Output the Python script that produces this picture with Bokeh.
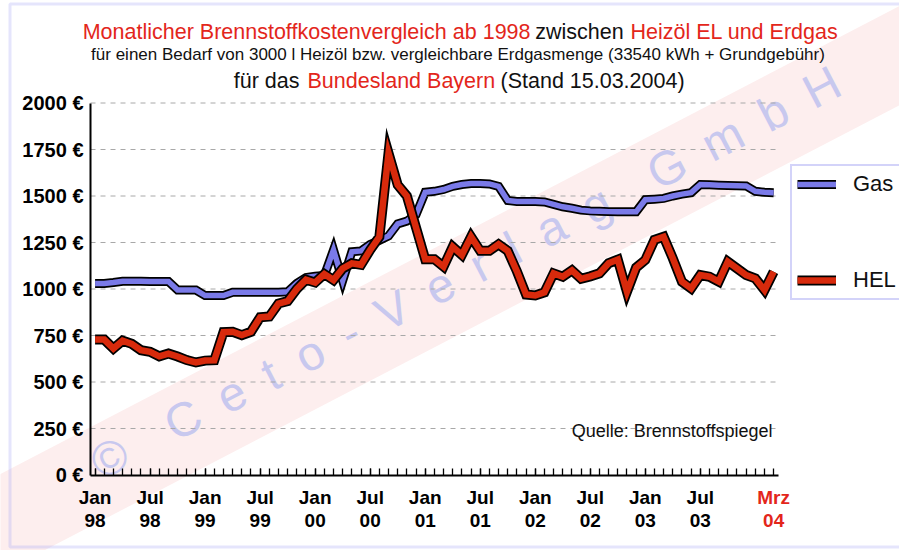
import math
from bokeh.plotting import figure
from bokeh.models import (FixedTicker, Label, Legend, LegendItem, PolyAnnotation,
                          Range1d, ColumnDataSource, LinearAxis)
from bokeh.embed import file_html
from bokeh.resources import INLINE

# ---------------- data ----------------
months = list(range(75))  # Jan 1998 .. Mrz 2004
gas = [1030, 1030, 1035, 1042, 1042, 1042, 1040, 1040, 1040, 994,
       994, 994, 965, 965, 965, 982, 982, 982, 982, 982,
       982, 985, 1030, 1062, 1068, 1072, 1210, 1045, 1200, 1205,
       1240, 1262, 1285, 1350, 1365, 1400, 1520, 1525, 1535, 1552,
       1562, 1567, 1567, 1565, 1552, 1476, 1471, 1470, 1470, 1468,
       1455, 1442, 1434, 1424, 1420, 1418, 1416, 1415, 1415, 1415,
       1480, 1483, 1487, 1500, 1510, 1518, 1562, 1560, 1558, 1556,
       1555, 1554, 1525, 1520, 1518]
hel = [728, 728, 680, 722, 705, 671, 662, 638, 653, 637,
       618, 605, 615, 617, 768, 770, 752, 770, 848, 852,
       922, 935, 1000, 1050, 1035, 1080, 1048, 1110, 1138, 1130,
       1210, 1280, 1730, 1560, 1500, 1330, 1160, 1160, 1120, 1227,
       1183, 1281, 1205, 1205, 1240, 1205, 1095, 970, 965, 982,
       1084, 1066, 1100, 1055, 1068, 1084, 1138, 1158, 985, 1115,
       1156, 1264, 1281, 1165, 1039, 1003, 1075, 1066, 1040, 1147,
       1111, 1075, 1057, 994, 1093]
x_tick_pos = [0, 6, 12, 18, 24, 30, 36, 42, 48, 54, 60, 66]
x_tick_labels = ["Jan\n98", "Jul\n98", "Jan\n99", "Jul\n99", "Jan\n00", "Jul\n00",
                 "Jan\n01", "Jul\n01", "Jan\n02", "Jul\n02", "Jan\n03", "Jul\n03"]
last_pos = [74]
last_label = ["Mrz\n04"]
y_ticks = [0, 250, 500, 750, 1000, 1250, 1500, 1750, 2000]
y_labels = ["0 €", "250 €", "500 €", "750 €", "1000 €", "1250 €", "1500 €", "1750 €", "2000 €"]
series_names = ["Gas", "HEL"]

# ---------------- layout / style ----------------
RED = "#e3261b"
GAS_C = "#7a7ae8"
HEL_C = "#d82a0c"
LAV = "#a8a8f4"
FONT = "Liberation Sans"
W, H = 899, 550
# data area in canvas pixels
X0_PX, X1_PX = 90.0, 775.0
Y0_PX, Y1_PX = 474.5, 102.5
XD0, XD1 = -0.5, 74.2
YD0, YD1 = 0, 2000
kx = (X1_PX - X0_PX) / (XD1 - XD0)
ky = (Y0_PX - Y1_PX) / (YD1 - YD0)
x_range = Range1d(XD0 - X0_PX / kx, XD1 + (W - X1_PX) / kx)
y_range = Range1d(YD0 - (H - Y0_PX) / ky, YD1 + Y1_PX / ky)

p = figure(width=W, height=H, x_range=x_range, y_range=y_range,
           output_backend="svg", toolbar_location=None,
           min_border=0, min_border_left=0, min_border_right=0,
           min_border_top=0, min_border_bottom=0)
p.title.visible = False
p.background_fill_color = "white"
p.border_fill_color = "white"
p.outline_line_color = None
p.xgrid.grid_line_color = None
p.ygrid.grid_line_color = None

# watermark band + text (decoration, canvas px, y down)
cx, cy = 465, 272
ang = math.radians(27.5)
dx, dy = math.cos(ang), -math.sin(ang)
nx, ny = math.sin(ang), math.cos(ang)
off, hw, L = 8, 44, 640
bx, by = cx + nx * off, cy + ny * off
xs = [bx - L*dx + hw*nx, bx + L*dx + hw*nx, bx + L*dx - hw*nx, bx - L*dx - hw*nx]
ys = [by - L*dy + hw*ny, by + L*dy + hw*ny, by + L*dy - hw*ny, by - L*dy - hw*ny]
p.add_layout(PolyAnnotation(xs=xs, ys=ys, xs_units="canvas", ys_units="canvas",
                            fill_color="#fdeeee", fill_alpha=1, line_color=None, level="image"))
SP = "\u2002"
wm_text = "©" + SP * 2 + SP.join("Ceto-Verlag") + SP * 2 + SP.join("GmbH")
p.add_layout(Label(x=cx, y=cy, x_units="canvas", y_units="canvas",
                   text=wm_text,
                   angle=27.5, angle_units="deg", text_align="center", text_baseline="middle",
                   text_font=FONT, text_font_size="48px", text_color="#c8c8ee", level="image"))

# dashed gridlines limited to the data area
gy = y_ticks[1:]
p.segment(x0=[XD0] * len(gy), y0=gy, x1=[XD1] * len(gy), y1=gy,
          line_color="#a8a8a8", line_dash="5 5", line_width=1, level="underlay")

# x axis (fixed at y=0)
xa = p.xaxis[0]
xa.fixed_location = 0
xa.bounds = (XD0, XD1 + 0.3)
xa.ticker = FixedTicker(ticks=x_tick_pos, minor_ticks=months)
xa.major_label_overrides = dict(zip(x_tick_pos, x_tick_labels))
xa.major_tick_in = 7
xa.major_tick_out = 0
xa.minor_tick_in = 7
xa.minor_tick_out = 0
xa.major_tick_line_color = "black"
xa.minor_tick_line_color = "black"
xa.major_tick_line_width = 1.3
xa.minor_tick_line_width = 1.3
xa.axis_line_color = "black"
xa.axis_line_width = 2
xa.major_label_text_font = FONT
xa.major_label_text_font_style = "bold"
xa.major_label_text_font_size = "19px"
xa.major_label_text_line_height = 1.1
xa.major_label_text_color = "black"
xa.major_label_standoff = 12

# red label for the last month
xr = LinearAxis(fixed_location=0, ticker=FixedTicker(ticks=last_pos, minor_ticks=[]),
                major_label_overrides=dict(zip(last_pos, last_label)),
                axis_line_color=None, major_tick_line_color=None, minor_tick_line_color=None,
                major_tick_in=0, major_tick_out=0, minor_tick_in=0, minor_tick_out=0,
                major_label_text_font=FONT, major_label_text_font_style="bold",
                major_label_text_font_size="19px", major_label_text_line_height=1.1,
                major_label_text_color=RED, major_label_standoff=12)
p.add_layout(xr, "below")

# y axis (fixed at left edge of data area)
ya = p.yaxis[0]
ya.fixed_location = XD0
ya.bounds = (YD0, YD1)
ya.ticker = FixedTicker(ticks=y_ticks)
ya.major_label_overrides = dict(zip(y_ticks, y_labels))
ya.major_tick_in = 0
ya.major_tick_out = 0
ya.minor_tick_in = 0
ya.minor_tick_out = 0
ya.axis_line_color = "black"
ya.axis_line_width = 2
ya.major_label_text_font = FONT
ya.major_label_text_font_style = "bold"
ya.major_label_text_font_size = "20px"
ya.major_label_text_color = "black"
ya.major_label_standoff = 7

# lines
src = ColumnDataSource(dict(month=months, gas=gas, hel=hel))
g_out = p.line("month", "gas", source=src, line_color="black", line_width=9, line_join="miter")
g_in = p.line("month", "gas", source=src, line_color=GAS_C, line_width=5.5, line_join="miter")
h_out = p.line("month", "hel", source=src, line_color="black", line_width=10, line_join="miter")
h_in = p.line("month", "hel", source=src, line_color=HEL_C, line_width=6.5, line_join="miter")

# source note
p.add_layout(Label(x=772, y=430, x_units="canvas", y_units="canvas",
                   text="Quelle: Brennstoffspiegel", text_align="right",
                   text_baseline="alphabetic", text_font=FONT, text_font_size="18px",
                   text_color="#111111"))

# legend (location = bottom-left corner, measured from frame bottom-left)
legend = Legend(items=[LegendItem(label=series_names[0], renderers=[g_out, g_in]),
                       LegendItem(label=series_names[1], renderers=[h_out, h_in])],
                location=(790, H - 300), orientation="vertical",
                glyph_width=39, glyph_height=22, label_height=22, label_width=60,
                label_standoff=17, spacing=70, padding=5, margin=0,
                border_line_color=LAV, border_line_width=2.5,
                background_fill_color="white", background_fill_alpha=1,
                label_text_font=FONT, label_text_font_size="22px", label_text_color="#111111")
p.add_layout(legend, "center")

# titles (canvas px, y down)
def tlabel(x, y, text, color, align, size):
    p.add_layout(Label(x=x, y=y, x_units="canvas", y_units="canvas", text=text,
                       text_align=align, text_baseline="alphabetic", text_font=FONT,
                       text_font_size=size, text_color=color))

y1, y2, y3 = 31.5, 54.3, 80
tlabel(530, y1, "Monatlicher Brennstoffkostenvergleich ab 1998", RED, "right", "21.5px")
tlabel(579, y1, "zwischen", "#111111", "center", "21.5px")
tlabel(630, y1, "Heizöl EL und Erdgas", RED, "left", "21.5px")
tlabel(457.5, y2, "für einen Bedarf von 3000 l Heizöl bzw. vergleichbare Erdgasmenge (33540 kWh + Grundgebühr)",
       "#111111", "center", "17px")
tlabel(299, y3, "für das", "#111111", "right", "21.5px")
tlabel(307, y3, "Bundesland Bayern", RED, "left", "21.5px")
tlabel(500, y3, "(Stand 15.03.2004)", "#111111", "left", "21.5px")

# outer frame (left, top, bottom)
p.add_layout(PolyAnnotation(xs=[W + 20, 9.5, 9.5, W + 20], ys=[3.5, 3.5, 546.5, 546.5],
                            xs_units="canvas", ys_units="canvas",
                            fill_alpha=0, line_color=LAV, line_width=3))

open("out.html", "w").write(file_html(p, INLINE))
